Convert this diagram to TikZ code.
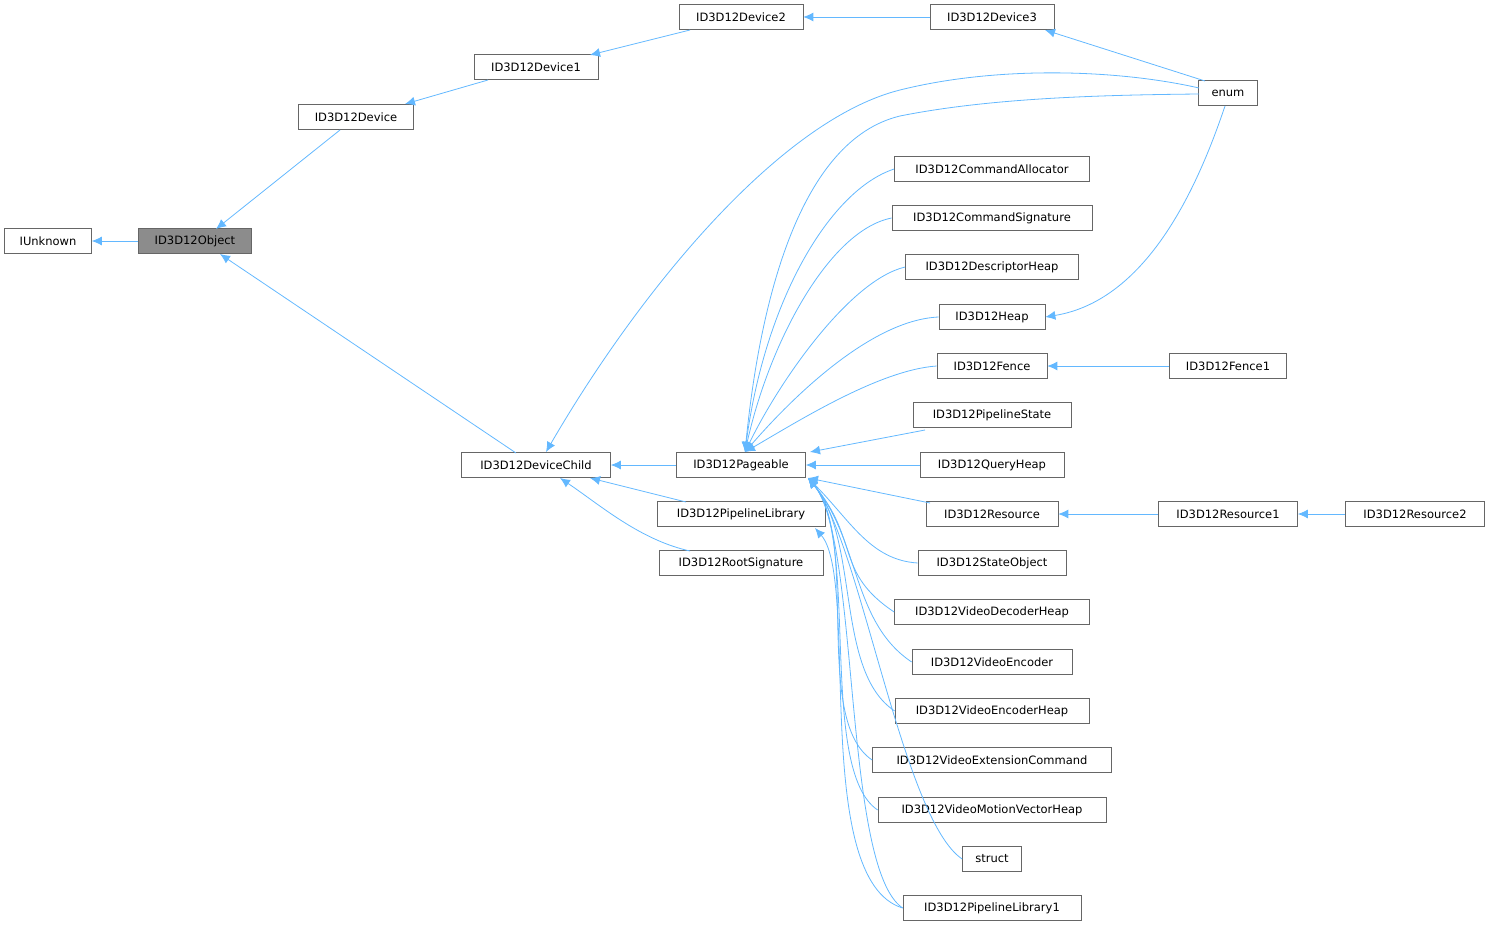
\documentclass[tikz,border=0pt]{standalone}
\usepackage{fontspec}
\setmainfont{DejaVu Sans}
\usetikzlibrary{arrows.meta,calc}
\definecolor{eb}{HTML}{63B8FF}
\newcommand\nd[6][white]{\node[bx,fill=#1,minimum width=#5] (#2) at (#3,#4) {#6};}
\begin{document}
\begin{tikzpicture}[x=1pt,y=-1pt,
 bx/.style={draw=black!60,line width=0.7pt,minimum height=25pt,inner sep=0pt,font=\fontsize{11.5}{13}\selectfont},
 e/.style={draw=eb,line width=0.8pt,{Latex[length=10pt,width=9pt]}-}]
\useasboundingbox (0,0) rectangle (1491,928);
\nd{iu}{48}{241}{87}{IUnknown}
\nd[black!45]{ob}{195}{241}{113}{ID3D12Object}
\nd{d0}{356}{117}{115}{ID3D12Device}
\nd{d1}{536}{67}{124}{ID3D12Device1}
\nd{d2}{741}{17}{124}{ID3D12Device2}
\nd{d3}{992}{17}{124}{ID3D12Device3}
\nd{en}{1228}{93}{59}{enum}
\nd{dc}{536}{465}{149}{ID3D12DeviceChild}
\nd{pg}{741}{465}{129}{ID3D12Pageable}
\nd{pl}{741}{514}{168}{ID3D12PipelineLibrary}
\nd{rs}{741}{563}{164}{ID3D12RootSignature}
\nd{ca}{992}{169}{195}{ID3D12CommandAllocator}
\nd{cs}{992}{218}{200}{ID3D12CommandSignature}
\nd{dh}{992}{267}{173}{ID3D12DescriptorHeap}
\nd{hp}{992}{317}{106}{ID3D12Heap}
\nd{fe}{992}{366}{110}{ID3D12Fence}
\nd{f1}{1228}{366}{117}{ID3D12Fence1}
\nd{ps}{992}{415}{158}{ID3D12PipelineState}
\nd{qh}{992}{465}{144}{ID3D12QueryHeap}
\nd{re}{992}{514}{132}{ID3D12Resource}
\nd{r1}{1228}{514}{139}{ID3D12Resource1}
\nd{r2}{1415}{514}{139}{ID3D12Resource2}
\nd{so}{992}{563}{148}{ID3D12StateObject}
\nd{vd}{992}{612}{195}{ID3D12VideoDecoderHeap}
\nd{ve}{992}{662}{160}{ID3D12VideoEncoder}
\nd{vh}{992}{711}{194}{ID3D12VideoEncoderHeap}
\nd{vx}{992}{760}{239}{ID3D12VideoExtensionCommand}
\nd{vm}{992}{810}{228}{ID3D12VideoMotionVectorHeap}
\nd{st}{992}{859}{59}{struct}
\nd{p1}{992}{908}{178}{ID3D12PipelineLibrary1}
\coordinate (pt) at (745,452);
\coordinate (pb) at (808,478);
\draw[e] (iu.east) -- (ob.west);
\draw[e] (216,229) -- (340,130);
\draw[e] (405,104) -- (488,80);
\draw[e] (590,55) -- (690,30);
\draw[e] (d2.east) -- (d3.west);
\draw[e] (1045,30) -- (1205,81);
\draw[e] (220,254) -- (516,453);
\draw[e] (dc.east) -- (pg.west);
\draw[e] (590,478) -- (686,502);
\draw[e] (560,478) .. controls (600,505) and (640,540) .. (690,551);
\draw[e] (546,452) .. controls (640,290) and (780,120) .. (900,90) .. controls (1000,65) and (1120,70) .. (1199,88);
\draw[e] (pt) .. controls (760,300) and (800,140) .. (900,116) .. controls (990,98) and (1100,95) .. (1199,94);
\draw[e] (pt) .. controls (765,300) and (830,190) .. (ca.west);
\draw[e] (pt) .. controls (770,340) and (830,230) .. (cs.west);
\draw[e] (pt) .. controls (780,380) and (850,280) .. (dh.west);
\draw[e] (pt) .. controls (790,400) and (870,320) .. (hp.west);
\draw[e] (pt) .. controls (800,420) and (880,370) .. (fe.west);
\draw[e] (810,452) -- (925,430);
\draw[e] (pg.east) -- (qh.west);
\draw[e] (pb) -- (930,503);
\draw[e] (pb) .. controls (850,520) and (870,560) .. (so.west);
\foreach \n in {vd,ve,vh,vx,vm,st,p1}
  \draw[e] (pb) .. controls (860,540) and ($(\n.west)+(-60,-40)$) .. (\n.west);
\draw[e] (815,528) .. controls (860,580) and (810,880) .. (p1.west);
\draw[e] (fe.east) -- (f1.west);
\draw[e] (re.east) -- (r1.west);
\draw[e] (r1.east) -- (r2.west);
\draw[e] (hp.east) .. controls (1150,300) and (1200,180) .. (1225,106);
\end{tikzpicture}
\end{document}
